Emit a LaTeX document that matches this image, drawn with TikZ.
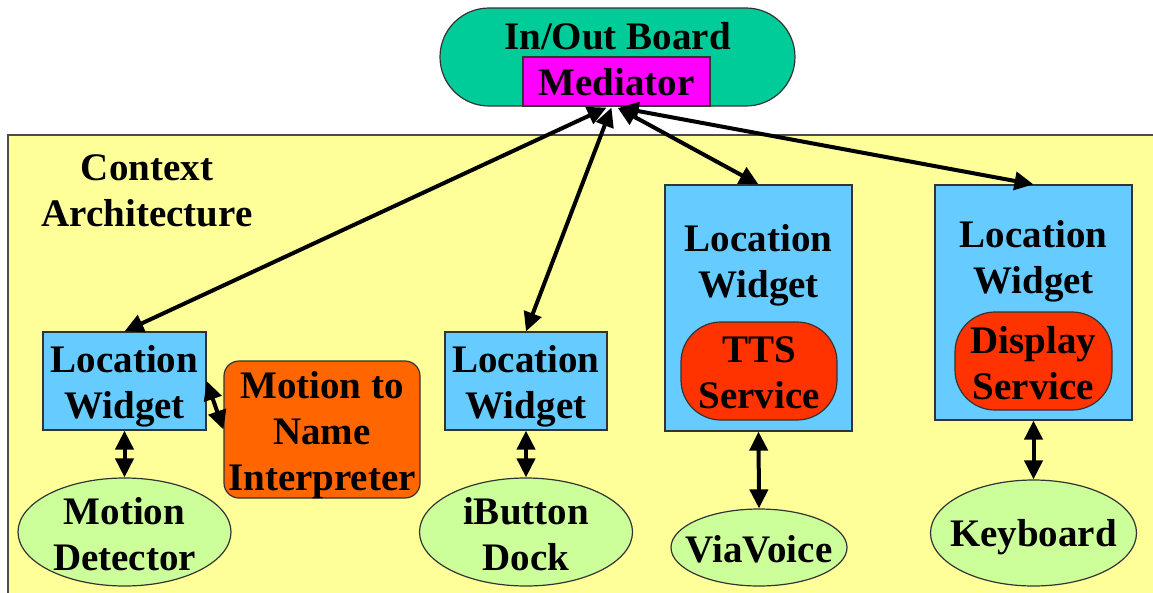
\documentclass[tikz,border=0pt]{standalone}
\usepackage{fontspec}
\setmainfont{Liberation Serif}
\usetikzlibrary{arrows.meta,shapes.geometric}

\definecolor{bgyellow}{HTML}{FFFF99}
\definecolor{boardgreen}{HTML}{00CC99}
\definecolor{medpink}{HTML}{FF00FF}
\definecolor{widgetblue}{HTML}{66CCFF}
\definecolor{interporange}{HTML}{FF6600}
\definecolor{servicered}{HTML}{FF3300}
\definecolor{devicegreen}{HTML}{CCFF99}

\begin{document}
\begin{tikzpicture}[x=1pt,y=-1pt]
\tikzstyle{every node}=[font=\fontsize{39}{46}\selectfont\bfseries, align=center, inner sep=0pt]
\tikzstyle{box}=[draw=black!80, line width=1.2pt]
\tikzstyle{widget}=[box, rectangle, fill=widgetblue]
\tikzstyle{service}=[box, rectangle, rounded corners=40pt, fill=servicered]
\tikzstyle{device}=[box, ellipse, fill=devicegreen]
\tikzstyle{link}=[line width=4pt, {Triangle[length=19pt,width=18pt]}-{Triangle[length=19pt,width=18pt]}]

\useasboundingbox (0,0) rectangle (1153,592);
\draw[fill=bgyellow, draw=black!70, line width=2pt] (8,135) rectangle (1170,610);

% top: board and mediator
\node[box, rectangle, rounded corners=49pt, fill=boardgreen, minimum width=355pt, minimum height=98pt] (board) at (617.5,57) {};
\node (boardtxt) at (617.5,36) {In/Out Board};
\node[box, rectangle, fill=medpink, minimum width=187pt, minimum height=49pt] (med) at (616.5,81.5) {};
\node (medtxt) at (616.5,82.5) {Mediator};

\node (ctx) at (147,191) {Context\\Architecture};

% left
\node[widget, minimum width=163pt, minimum height=98pt] (lw) at (124.5,381) {};
\node (lwtxt) at (124.5,386) {Location\\Widget};
\node[box, rectangle, rounded corners=15pt, fill=interporange, minimum width=196pt, minimum height=137pt] (interp) at (322,429.5) {};
\node (interptxt) at (322,435) {Motion to\\Name\\Interpreter};
\node[device, minimum width=213pt, minimum height=108pt] (motion) at (124.5,532) {};
\node (motiontxt) at (124.5,534) {Motion\\Detector};

% middle
\node[widget, minimum width=162pt, minimum height=98pt] (mw) at (526,381) {};
\node (mwtxt) at (526,386) {Location\\Widget};
\node[device, minimum width=213pt, minimum height=108pt] (ibutton) at (526,532) {};
\node (ibuttontxt) at (526,534) {iButton\\Dock};

% tts
\node[widget, minimum width=187pt, minimum height=246pt] (tw) at (758.5,308) {};
\node (twtxt) at (758.5,265.5) {Location\\Widget};
\node[service, minimum width=156pt, minimum height=98pt] (tts) at (759,371) {};
\node (ttstxt) at (759,373) {TTS\\Service};
\node[device, minimum width=176pt, minimum height=77pt] (via) at (759,547.5) {};
\node (viatxt) at (759,549) {ViaVoice};

% display
\node[widget, minimum width=197pt, minimum height=235pt] (dw) at (1033.5,302.5) {};
\node (dwtxt) at (1033.5,261) {Location\\Widget};
\node[service, minimum width=157pt, minimum height=98pt] (disp) at (1033.5,361) {};
\node (disptxt) at (1033.5,363) {Display\\Service};
\node[device, minimum width=206pt, minimum height=106pt] (keyb) at (1033.5,533) {};
\node (keybtxt) at (1033.5,537) {Keyboard};

% connections
\draw[link] ([xshift=-10pt,yshift=-1pt]med.south) -- (lw.north);
\draw[link] ([xshift=-5pt,yshift=-1pt]med.south) -- (mw.north);
\draw[link] ([xshift=1pt,yshift=-1pt]med.south) -- (tw.north);
\draw[link] ([xshift=3pt,yshift=-1pt]med.south) -- (dw.north);
\draw[link] (lw.south) -- (motion.north);
\draw[link] (lw.east) -- (interp.west);
\draw[link] (mw.south) -- (ibutton.north);
\draw[link] (tw.south) -- (via.north);
\draw[link] (dw.south) -- (keyb.north);
\end{tikzpicture}
\end{document}
